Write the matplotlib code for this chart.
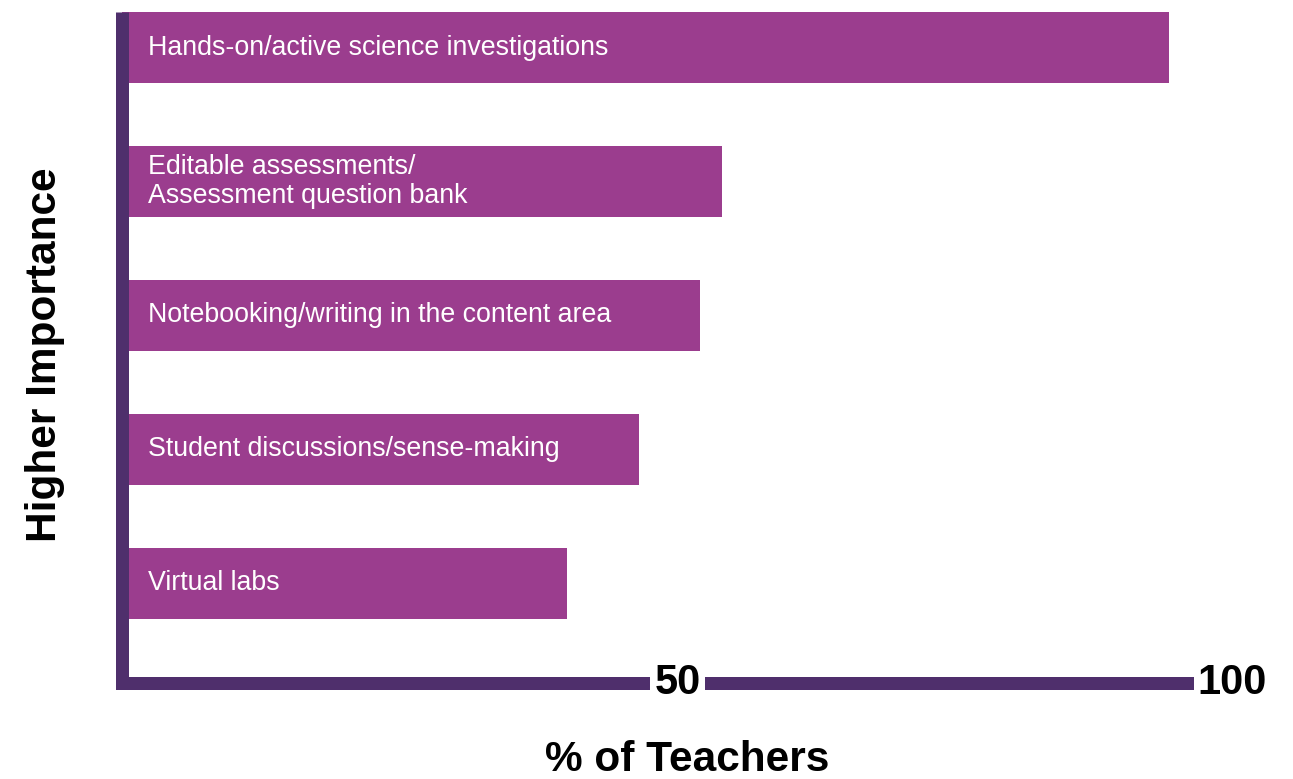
import matplotlib
matplotlib.use("Agg")
import matplotlib.pyplot as plt

categories = [
    "Hands-on/active science investigations",
    "Editable assessments/\nAssessment question bank",
    "Notebooking/writing in the content area",
    "Student discussions/sense-making",
    "Virtual labs",
]
values = [94.3, 54, 52, 46.5, 40]
tick_values = [50, 100]
tick_labels = ["50", "100"]

BAR = "#9B3D8E"
AXIS = "#4F2F6C"
FONT = ["Liberation Sans", "DejaVu Sans"]

W, H = 1293, 779
fig = plt.figure(figsize=(W / 100, H / 100), dpi=100)
left_px, right_px, top_px, bottom_px = 122.5, 1232.5, 12, 682.5
ax = fig.add_axes([left_px / W, 1 - bottom_px / H,
                   (right_px - left_px) / W, (bottom_px - top_px) / H])

ypos = list(range(len(categories)))
ax.barh(ypos, values, height=0.53, color=BAR, left=0, zorder=2)
ax.set_xlim(0, 100)
ax.set_ylim(4.739, -0.265)

for y, lab in zip(ypos, categories):
    ax.text(2.3, y, lab, color="white", va="center", ha="left",
            fontsize=19.3, family=FONT, linespacing=1.12, zorder=3)

for s in ["top", "right"]:
    ax.spines[s].set_visible(False)
lw = 13 * 0.72
ax.spines["left"].set_linewidth(lw)
ax.spines["left"].set_color(AXIS)
ax.spines["left"].set_capstyle("butt")
ax.spines["bottom"].set_linewidth(lw)
ax.spines["bottom"].set_color(AXIS)
ax.spines["bottom"].set_capstyle("projecting")
ax.set_xticks([])
ax.set_yticks([])

for v, t in zip(tick_values, tick_labels):
    ax.annotate(t, xy=(v, 0), xycoords=("data", "axes fraction"),
                ha="center", va="center", fontsize=30, fontweight="bold",
                family=FONT, color="black", annotation_clip=False,
                bbox=dict(boxstyle="square,pad=0.1", fc="white", ec="none"),
                zorder=5)

fig.text(45 / W, 1 - 355 / H, "Higher Importance", rotation=90,
         ha="center", va="center", fontsize=30.5, fontweight="bold", family=FONT)
fig.text(687 / W, 1 - 760 / H, "% of Teachers", ha="center", va="center",
         fontsize=30.5, fontweight="bold", family=FONT)

fig.savefig("out.png", dpi=100)
